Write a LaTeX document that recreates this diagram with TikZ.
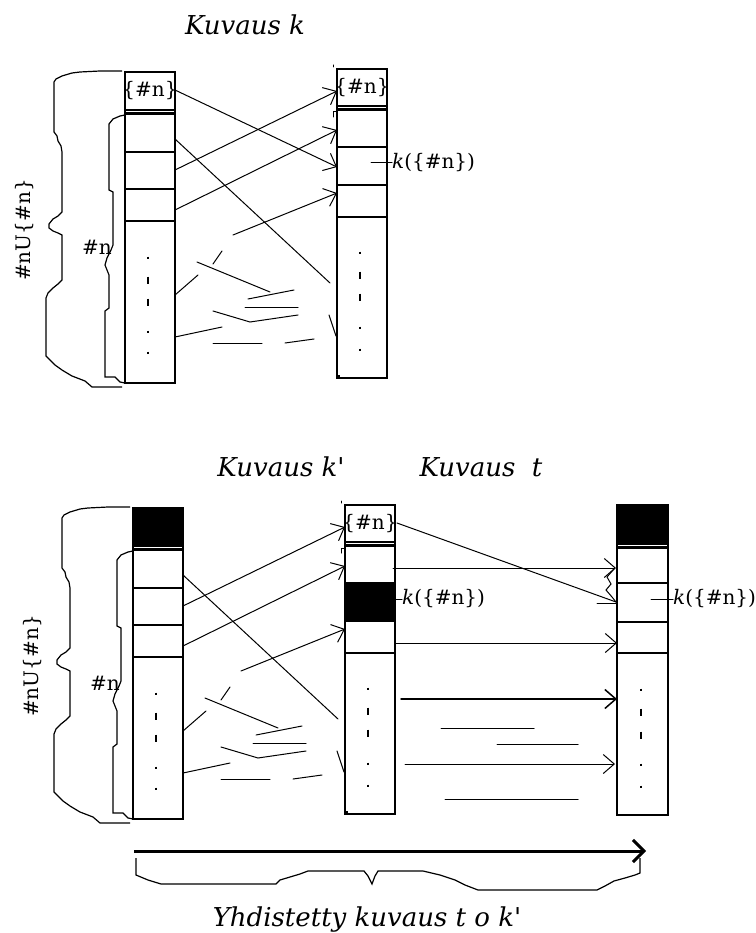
\documentclass[tikz,border=0pt]{standalone}
\usepackage{fontspec}
\setmainfont{DejaVu Serif}
\usetikzlibrary{arrows.meta}
\tikzset{
  col/.style={line width=1.5pt},
  cell/.style={line width=1.2pt},
  band/.style={line width=2.6pt},
  ln/.style={line width=1pt, line cap=round},
  arr/.style={ln, -{Straight Barb[length=11pt,width=19pt]}},
  bracel/.style={line width=1.2pt, line join=miter},
  dotmark/.style={line width=2pt},
  lbl/.style={inner sep=0pt, font=\fontsize{20}{22}\selectfont},
  ttl/.style={inner sep=0pt, font=\fontsize{26}{28}\selectfont\itshape},
}
\newcommand\mydot[2]{\draw[dotmark] (#1,#2-1.3) -- (#1,#2+1.3);}
\newcommand\mydash[2]{\draw[dotmark] (#1,#2-3.5) -- (#1,#2+3.5);}
\newcommand\drawbase[1]{%
  % left column
  \draw[col] (125,72) rectangle (175,383);
  \draw[cell] (125,110) -- (175,110);
  \draw[band] (125,113.5) -- (175,113.5);
  \foreach \yy in {152,189,221} {\draw[cell] (125,\yy) -- (175,\yy);}
  \mydot{148}{258}\mydash{148}{280}\mydash{148}{302}\mydot{148}{332}\mydot{148}{353}
  % right column
  \draw[col] (337,69) rectangle (387,378);
  \draw[cell] (337,106) -- (387,106);
  \draw[band] (337,109.5) -- (387,109.5);
  \foreach \yy in {147,185,217} {\draw[cell] (337,\yy) -- (387,\yy);}
  \mydot{360}{253}\mydash{360}{275}\mydash{360}{297}\mydot{360}{328}\mydot{360}{350}
  \node[lbl] (#1rn) at (362,88) {\{\#n\}};
  \draw[ln] (333,65) -- (333,67);
  \draw[ln] (333,117) -- (333,112) -- (336,112);
  \draw[line width=2pt] (336,376) -- (340,376);
  % arrows
  \draw[ln] (175,139) -- (330,283);
  \draw[arr] (175,170) -- (337,91);
  \draw[arr] (175,210) -- (337,130);
  \draw[arr] (233,235) -- (337,193);
  % fragments
  \draw[ln] (222,251) -- (213,264);
  \draw[ln] (197,262) -- (270,292);
  \draw[ln] (175,295) -- (198,275);
  \draw[ln] (248,299) -- (294,290);
  \draw[ln] (245,307) -- (298,307);
  \draw[ln] (213,311) -- (250,322) -- (298,315);
  \draw[ln] (175,337) -- (222,327);
  \draw[ln] (213,343) -- (262,343);
  \draw[ln] (285,343) -- (314,339);
  \draw[ln] (329,315) -- (336,336);
  % outer brace
  \draw[bracel] (122,71) -- (100,71) -- (80,72) -- (72,73) -- (62,76) -- (56,79) -- (54,82)
    -- (54,132) -- (57,136) -- (58,141) -- (61,146) -- (62,152) -- (62,212) -- (58,216)
    -- (53,219) -- (49,224) -- (49,228) -- (53,231) -- (58,233) -- (62,235) -- (62,280)
    -- (58,284) -- (53,288) -- (48,293) -- (46,298) -- (46,356) -- (50,360) -- (55,365)
    -- (62,370) -- (72,376) -- (85,381) -- (92,387) -- (122,387);
  % inner brace
  \draw[bracel] (125,115) -- (120,116) -- (113,119) -- (109,124) -- (109,190) -- (113,192)
    -- (113,245) -- (111,250) -- (107,258) -- (105,265) -- (107,270) -- (109,275)
    -- (109,308) -- (105,311) -- (105,377) -- (115,377) -- (120,382) -- (125,383);
  \node[lbl] (#1hn) at (97,247) {\#n};
  \node[lbl, rotate=90] (#1un) at (25,230) {\#nU\{\#n\}};
}
\begin{document}
\begin{tikzpicture}[x=1pt, y=-1pt]
\fill[white] (0,0) rectangle (755,933);
\useasboundingbox (0,0) rectangle (755,933);

% ---------- titles ----------
\node[ttl] (t1) at (245,25) {Kuvaus k};
\node[ttl] (t2) at (281,467) {Kuvaus k\textquotesingle};
\node[ttl] (t3) at (481,467) {Kuvaus\ \ t};
\node[ttl] (t4) at (367,919) {Yhdistetty kuvaus t o k\textquotesingle};

% ---------- top diagram ----------
\drawbase{a}
\node[lbl] (alab) at (150,91) {\{\#n\}};
\draw[arr] (175,90) -- (337,167);
\draw[ln] (371,163) -- (392,163);
\node[lbl, anchor=west] (ak) at (392,163) {\textit{k}(\{\#n\})};

% ---------- bottom diagram ----------
\begin{scope}[shift={(8,436)}]
  \fill[black] (125,72) rectangle (175,110);
  \fill[black] (337,147) rectangle (387,185);
  \drawbase{b}
\end{scope}
\draw[ln] (396,599) -- (402,599);
\node[lbl, anchor=west] (bk) at (402,599) {\textit{k}(\{\#n\})};

% right column
\fill[black] (617,505) rectangle (668,545);
\draw[col] (617,505) rectangle (668,815);
\draw[band] (617,547.5) -- (668,547.5);
\foreach \yy in {583,622,653} {\draw[cell] (617,\yy) -- (668,\yy);}
\mydot{641}{690}\mydash{641}{712}\mydash{641}{735}\mydot{641}{765}\mydot{641}{787}
\draw[ln] (651,599) -- (673,599);
\node[lbl, anchor=west] (ck) at (673,599) {\textit{k}(\{\#n\})};

% middle -> right arrows
\draw[ln] (397,523) -- (616,602);
\draw[ln] (597,603) -- (617,603);
\draw[arr] (393,568) -- (616,568);
\draw[ln] (614,569) -- (607,577) -- (611,584) -- (606,590) -- (612,597) -- (616,602);
\draw[arr] (395,643) -- (617,643);
\draw[arr, line width=1.5pt] (401,699) -- (617,699);
\draw[arr] (405,764) -- (615,764);
\draw[ln] (441,728) -- (534,728);
\draw[ln] (497,744) -- (578,744);
\draw[ln] (445,799) -- (578,799);

% composite arrow and brace
\coordinate (ca) at (134,851);
\coordinate (cb) at (646,851);
\draw[line width=3pt, -{Straight Barb[length=11pt,width=22pt]}] (ca) -- (cb);
\draw[bracel] (136,858) -- (136,875) -- (148,880) -- (161,884) -- (276,884) -- (280,880)
  -- (290,877) -- (300,874) -- (308,871) -- (364,871) -- (368,876) -- (372,884)
  -- (375,876) -- (378,871) -- (423,871) -- (440,875) -- (455,880) -- (465,885)
  -- (478,890) -- (597,890) -- (605,886) -- (614,881) -- (625,878) -- (635,875)
  -- (640,873) -- (640,858);
\end{tikzpicture}
\end{document}
